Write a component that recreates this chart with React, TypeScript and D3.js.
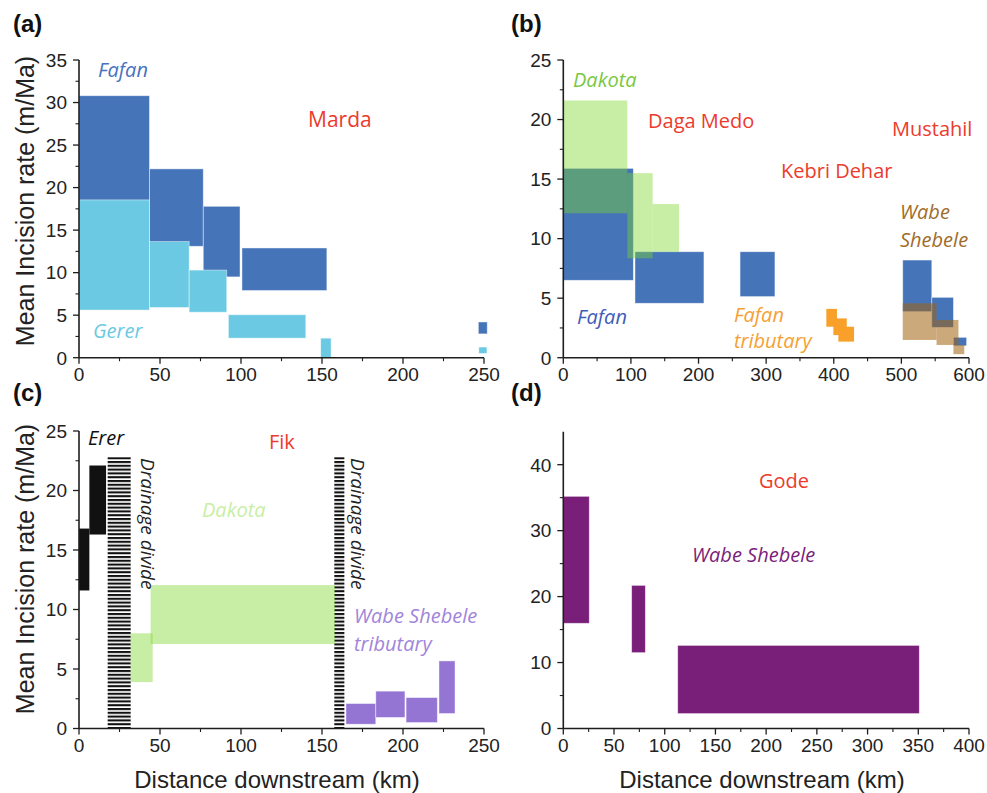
import React from 'react';
import * as d3 from 'd3';

// Each box: [x0, x1, y0, y1] in km downstream / m per Ma
type Box = [number, number, number, number];

// (a) Marda
const fafanA: Box[] = [
  [0, 43.5, 18.5, 30.8],
  [43.5, 76.7, 13.1, 22.2],
  [76.7, 99.4, 9.5, 17.8],
  [100.6, 153, 7.9, 12.9],
  [246.5, 252, 2.8, 4.2],
];
const gererA: Box[] = [
  [0, 43.5, 5.6, 18.55],
  [43.5, 68, 5.9, 13.65],
  [68, 91.2, 5.35, 10.3],
  [92.2, 140, 2.3, 5.05],
  [149.2, 155.6, 0, 2.3],
  [246.8, 251.8, 0.5, 1.25],
];

// (b) Daga Medo / Kebri Dehar / Mustahil
const fafanB: Box[] = [
  [0, 103.6, 6.5, 15.9],
  [106, 208, 4.57, 8.9],
  [261.4, 313, 5.13, 8.9],
  [502, 545, 3.87, 8.2],
  [545, 577, 2.55, 5.07],
  [577, 596.5, 1.0, 1.71],
];
const dakotaB: Box[] = [
  [0, 94.7, 12.13, 21.6],
  [94.7, 132.2, 8.35, 15.5],
  [132.2, 171.2, 8.9, 12.9],
];
const fafanTribB: Box[] = [
  [389, 404.7, 2.6, 4.1],
  [399.4, 419.2, 1.9, 3.3],
  [406.8, 430, 1.35, 2.6],
];
const wabeB: Box[] = [
  [502, 552, 1.49, 4.57],
  [552, 584.4, 1.07, 3.17],
  [577, 593, 0.3, 1.07],
];

// (c) Fik
const ererC: Box[] = [
  [0, 6.4, 11.6, 16.8],
  [6.4, 16.7, 16.3, 22.1],
];
const divideC: Box[] = [
  [17.7, 31.9, 0, 22.8],
  [157.6, 163.8, 0, 22.8],
];
const dakotaC: Box[] = [
  [31.9, 45.5, 3.9, 8.0],
  [44.2, 158, 7.1, 12.05],
];
const wabeTribC: Box[] = [
  [164.8, 183.2, 0.36, 2.1],
  [183.2, 201.2, 0.93, 3.14],
  [201.9, 221.2, 0.5, 2.6],
  [222.2, 232.1, 1.26, 5.68],
];

// (d) Gode
const wabeD: Box[] = [
  [0, 25.6, 15.95, 35.2],
  [67.4, 80.9, 11.5, 21.7],
  [112.8, 351, 2.26, 12.6],
];

const xTicksA = [0, 50, 100, 150, 200, 250];
const yTicksA = [0, 5, 10, 15, 20, 25, 30, 35];
const xTicksB = [0, 100, 200, 300, 400, 500, 600];
const yTicksB = [0, 5, 10, 15, 20, 25];
const xTicksC = [0, 50, 100, 150, 200, 250];
const yTicksC = [0, 5, 10, 15, 20, 25];
const xTicksD = [0, 50, 100, 150, 200, 250, 300, 350, 400];
const yTicksD = [0, 10, 20, 30, 40];

const TICK_FONT = "'Liberation Sans', Arial, sans-serif";
const LABEL_FONT = "'Open Sans', 'Noto Sans', sans-serif";
const RED = '#ec3b2c';
const DAKOTA_FILL = '#7dd72a';

interface PanelCfg {
  left: number;
  right: number;
  top: number;
  bottom: number;
  xMax: number;
  yMax: number;
  xTicks: number[];
  yTicks: number[];
  xMinor: number;
  yMinor: number;
}

const cfgA: PanelCfg = { left: 79, right: 484, top: 60, bottom: 357.7, xMax: 250, yMax: 35, xTicks: xTicksA, yTicks: yTicksA, xMinor: 25, yMinor: 2.5 };
const cfgB: PanelCfg = { left: 563.3, right: 969, top: 60, bottom: 357.7, xMax: 600, yMax: 25, xTicks: xTicksB, yTicks: yTicksB, xMinor: 50, yMinor: 2.5 };
const cfgC: PanelCfg = { left: 79, right: 484, top: 431, bottom: 728.5, xMax: 250, yMax: 25, xTicks: xTicksC, yTicks: yTicksC, xMinor: 25, yMinor: 2.5 };
const cfgD: PanelCfg = { left: 563.3, right: 969, top: 431.7, bottom: 728.5, xMax: 400, yMax: 45, xTicks: xTicksD, yTicks: yTicksD, xMinor: 25, yMinor: 5 };

function scalesFor(c: PanelCfg) {
  const x = d3.scaleLinear().domain([0, c.xMax]).range([c.left, c.right]);
  const y = d3.scaleLinear().domain([0, c.yMax]).range([c.bottom, c.top]);
  return { x, y };
}

function Boxes({ cfg, data, fill, opacity = 1, edge = true }: { cfg: PanelCfg; data: Box[]; fill: string; opacity?: number; edge?: boolean }) {
  const { x, y } = scalesFor(cfg);
  return (
    <g>
      {data.map((b, i) => (
        <rect
          key={i}
          x={x(b[0])}
          y={y(b[3])}
          width={x(b[1]) - x(b[0])}
          height={y(b[2]) - y(b[3])}
          fill={fill}
          fillOpacity={opacity}
          stroke={edge ? 'rgba(255,255,255,0.55)' : 'none'}
          strokeWidth={edge ? 0.8 : 0}
        />
      ))}
    </g>
  );
}

function Axes({ cfg }: { cfg: PanelCfg }) {
  const { x, y } = scalesFor(cfg);
  const xMinorTicks = d3.range(0, cfg.xMax + 1e-6, cfg.xMinor).filter((v) => !cfg.xTicks.includes(v));
  const yMinorTicks = d3.range(0, cfg.yMax + 1e-6, cfg.yMinor).filter((v) => !cfg.yTicks.includes(v) && v < cfg.yMax);
  const ink = '#1e1e1e';
  return (
    <g>
      <line x1={cfg.left} x2={cfg.left} y1={cfg.bottom} y2={cfg.top} stroke={ink} strokeWidth={1.6} />
      <line x1={cfg.left} x2={cfg.right} y1={cfg.bottom} y2={cfg.bottom} stroke={ink} strokeWidth={1.6} />
      {cfg.xTicks.map((t) => (
        <g key={'x' + t}>
          <line x1={x(t)} x2={x(t)} y1={cfg.bottom} y2={cfg.bottom + 6} stroke={ink} strokeWidth={1.3} />
          <text x={x(t)} y={cfg.bottom + 23.5} textAnchor="middle" fontFamily={TICK_FONT} fontSize={19} fill="#222">
            {t}
          </text>
        </g>
      ))}
      {xMinorTicks.map((t) => (
        <line key={'xm' + t} x1={x(t)} x2={x(t)} y1={cfg.bottom} y2={cfg.bottom + 3.5} stroke={ink} strokeWidth={1.1} />
      ))}
      {cfg.yTicks.map((t) => (
        <g key={'y' + t}>
          <line x1={cfg.left - 6} x2={cfg.left} y1={y(t)} y2={y(t)} stroke={ink} strokeWidth={1.3} />
          <text x={cfg.left - 12} y={y(t)} dy="0.36em" textAnchor="end" fontFamily={TICK_FONT} fontSize={19} fill="#222">
            {t}
          </text>
        </g>
      ))}
      {yMinorTicks.map((t) => (
        <line key={'ym' + t} x1={cfg.left - 3.5} x2={cfg.left} y1={y(t)} y2={y(t)} stroke={ink} strokeWidth={1.1} />
      ))}
    </g>
  );
}

function Label({ x, y, text, color, italic = false, size = 20, rotate = 0 }: { x: number; y: number; text: string; color: string; italic?: boolean; size?: number; rotate?: number }) {
  return (
    <text
      x={x}
      y={y}
      transform={rotate ? `rotate(${rotate} ${x} ${y})` : undefined}
      fontFamily={LABEL_FONT}
      fontStyle={italic ? 'italic' : 'normal'}
      fontSize={size}
      fill={color}
    >
      {text}
    </text>
  );
}

function PanelTag({ x, y, text }: { x: number; y: number; text: string }) {
  return (
    <text x={x} y={y} fontFamily={TICK_FONT} fontWeight="bold" fontSize={24} fill="#111">
      {text}
    </text>
  );
}

export default function App() {
  const sC = scalesFor(cfgC);
  const yTitle = 'Mean Incision rate (m/Ma)';
  const xTitle = 'Distance downstream (km)';
  return (
    <svg
      width={987}
      height={793}
      viewBox="0 0 987 793"
      style={{ position: 'absolute', left: 0, top: 0, background: '#fff' }}
    >
      <defs>
        <pattern id="divideHatch" patternUnits="userSpaceOnUse" width={20} height={3.8} y={sC.y(22.8)}>
          <rect x={0} y={0} width={20} height={2.1} fill="#111" />
        </pattern>
      </defs>
      <rect width={987} height={793} fill="#fff" />

      {/* (a) */}
      <PanelTag x={13} y={32} text="(a)" />
      <Boxes cfg={cfgA} data={fafanA} fill="#4574b9" />
      <Boxes cfg={cfgA} data={gererA} fill="#6bc9e3" />
      <Axes cfg={cfgA} />
      <Label x={98} y={77} text="Fafan" color="#4672c0" italic />
      <Label x={308} y={127} text="Marda" color={RED} size={21} />
      <Label x={93} y={338} text="Gerer" color="#6cc8e3" italic />
      <text transform="translate(34 201) rotate(-90)" textAnchor="middle" fontFamily={TICK_FONT} fontSize={25} fill="#222">
        {yTitle}
      </text>

      {/* (b) */}
      <PanelTag x={511} y={32} text="(b)" />
      <Boxes cfg={cfgB} data={fafanB} fill="#4574b9" />
      <Boxes cfg={cfgB} data={dakotaB} fill={DAKOTA_FILL} opacity={0.42} edge={false} />
      <Boxes cfg={cfgB} data={fafanTribB} fill="#f8a02a" edge={false} />
      <Boxes cfg={cfgB} data={wabeB} fill="#a2620e" opacity={0.55} edge={false} />
      <Axes cfg={cfgB} />
      <Label x={573} y={87} text="Dakota" color="#79c843" italic />
      <Label x={648} y={128} text="Daga Medo" color={RED} />
      <Label x={892} y={136} text="Mustahil" color={RED} />
      <Label x={781} y={178} text="Kebri Dehar" color={RED} />
      <Label x={900} y={219} text="Wabe" color="#a06c2a" italic />
      <Label x={900} y={247} text="Shebele" color="#a06c2a" italic />
      <Label x={577} y={324} text="Fafan" color="#3f5cb8" italic />
      <Label x={734} y={322} text="Fafan" color="#f5a033" italic />
      <Label x={734} y={348} text="tributary" color="#f5a033" italic />

      {/* (c) */}
      <PanelTag x={13} y={401} text="(c)" />
      <Boxes cfg={cfgC} data={ererC} fill="#111111" edge={false} />
      <Boxes cfg={cfgC} data={divideC} fill="url(#divideHatch)" edge={false} />
      <Boxes cfg={cfgC} data={dakotaC} fill={DAKOTA_FILL} opacity={0.42} edge={false} />
      <Boxes cfg={cfgC} data={wabeTribC} fill="#9575d3" />
      <Axes cfg={cfgC} />
      <Label x={88} y={445} text="Erer" color="#111" italic />
      <Label x={269} y={449} text="Fik" color={RED} />
      <Label x={202} y={517} text="Dakota" color="#c9eea4" italic />
      <Label x={354} y={623} text="Wabe Shebele" color="#9f85db" italic />
      <Label x={354} y={651} text="tributary" color="#9f85db" italic />
      <Label x={141} y={458} text="Drainage divide" color="#222" italic size={19} rotate={90} />
      <Label x={351} y={458} text="Drainage divide" color="#222" italic size={19} rotate={90} />
      <text transform="translate(34 569) rotate(-90)" textAnchor="middle" fontFamily={TICK_FONT} fontSize={25} fill="#222">
        {yTitle}
      </text>
      <text x={277} y={788} textAnchor="middle" fontFamily={TICK_FONT} fontSize={24} fill="#222">
        {xTitle}
      </text>

      {/* (d) */}
      <PanelTag x={511} y={401} text="(d)" />
      <Boxes cfg={cfgD} data={wabeD} fill="#791f79" />
      <Axes cfg={cfgD} />
      <Label x={759} y={488} text="Gode" color={RED} />
      <Label x={692} y={562} text="Wabe Shebele" color="#7a1f7a" italic />
      <text x={762} y={788} textAnchor="middle" fontFamily={TICK_FONT} fontSize={24} fill="#222">
        {xTitle}
      </text>
    </svg>
  );
}
